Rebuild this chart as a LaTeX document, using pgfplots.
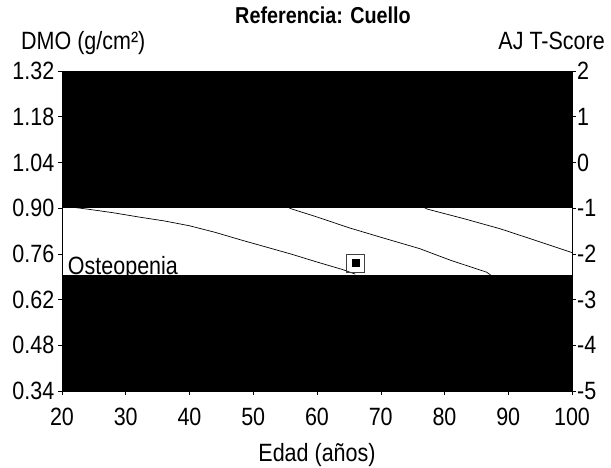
\documentclass[border=0pt]{standalone}
\usepackage{pgfplots}
\pgfplotsset{compat=1.18}
\usepackage{fontspec}
\setmainfont{Liberation Sans}[FakeStretch=0.86]
\newcommand{\lbl}{\fontsize{25}{30}\selectfont}
\begin{document}
\begin{tikzpicture}[x=1pt,y=1pt]
\useasboundingbox (0,0) rectangle (611,468);
% left axis: DMO
\begin{axis}[
  at={(62pt,77pt)}, anchor=south west,
  width=510pt, height=320pt, scale only axis,
  xmin=20, xmax=100, ymin=0.34, ymax=1.32,
  xtick={20,30,...,100},
  ytick={0.34,0.48,0.62,0.76,0.90,1.04,1.18,1.32},
  yticklabel style={/pgf/number format/fixed, /pgf/number format/fixed zerofill, /pgf/number format/precision=2, inner sep=3.5pt},
  /pgf/number format/assume math mode=true,
  axis y line*=left, axis x line*=bottom,
  tick align=outside, major tick length=4pt,
  tick style={black, line width=0.5pt},
  ticklabel style={font=\lbl},
  xticklabel style={inner sep=0pt, yshift=-13pt},
  axis line style={line width=0.6pt},
  clip=true,
]
% reference curves
\addplot[black, line width=0.7pt] coordinates {
  (22,0.902) (24,0.897) (28,0.886) (32,0.873) (36,0.861) (40,0.846) (44,0.826)
  (48,0.803) (52,0.781) (56,0.759) (60,0.735) (64,0.712) (66,0.698)};
\addplot[black, line width=0.7pt] coordinates {
  (55.5,0.902) (56.1,0.897) (60,0.873) (65,0.840) (70.5,0.808) (76.1,0.776) (81,0.740) (86.6,0.704) (87.6,0.69)};
\addplot[black, line width=0.7pt] coordinates {
  (76.8,0.902) (77.3,0.897) (83,0.868) (88.7,0.837) (94,0.803) (100,0.764)};
\node[anchor=base west, inner sep=0pt, font=\lbl] at (axis cs:20.9,0.698) {Osteopenia};
% bands
\addplot[fill=black, draw=none] coordinates {(20,0.90) (100,0.90) (100,1.32) (20,1.32)};
\addplot[fill=black, draw=none] coordinates {(20,0.34) (100,0.34) (100,0.695) (20,0.695)};
% patient
\addplot[only marks, mark=square, mark size=9pt, mark options={draw=black!75, line width=0.7pt, fill=white}] coordinates {(66,0.732)};
\addplot[only marks, mark=square*, mark size=3.5pt, mark options={black}] coordinates {(66,0.732)};
\end{axis}
% right axis: T-score
\begin{axis}[
  at={(62pt,77pt)}, anchor=south west,
  width=510pt, height=320pt, scale only axis,
  xmin=20, xmax=100, ymin=-5, ymax=2,
  ytick={-5,...,2},
  /pgf/number format/assume math mode=true,
  axis y line*=right, axis x line=none,
  tick align=outside, major tick length=4pt,
  tick style={black, line width=0.5pt},
  ticklabel style={font=\lbl},
  yticklabel style={inner sep=1pt},
  axis line style={line width=0.6pt},
]
\end{axis}
\node[anchor=base, inner sep=0pt, font=\fontsize{23}{28}\selectfont\bfseries] at (323,444) {Referencia: Cuello};
\node[anchor=base west, inner sep=0pt, font=\lbl] at (21,418) {DMO (g/cm²)};
\node[anchor=base east, inner sep=0pt, font=\lbl] at (605,418) {AJ T-Score};
\node[anchor=base, inner sep=0pt, font=\lbl] at (317,6) {Edad (años)};
\end{tikzpicture}
\end{document}
